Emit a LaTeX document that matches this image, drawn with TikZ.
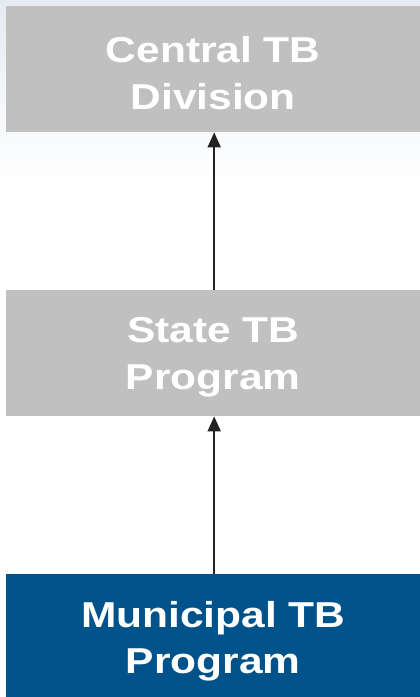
\documentclass[tikz,border=0pt]{standalone}
\usepackage{fontspec}
\newfontfamily\boxfont{Liberation Sans}[FakeStretch=1.18]
\usetikzlibrary{arrows.meta}
\definecolor{bgblue}{HTML}{E6EBF1}
\definecolor{boxgray}{HTML}{C0C0C0}
\definecolor{boxblue}{HTML}{00538A}
\definecolor{arrowdark}{HTML}{222222}
\tikzset{
  boxtext/.style={inner sep=0pt, align=center, text=white, yshift=-4pt,
    font=\boxfont\bfseries\fontsize{36}{46.5}\selectfont},
  box/.style={rectangle, anchor=north west, minimum width=414pt, minimum height=126pt,
    inner sep=0pt},
  graybox/.style={box, fill=boxgray},
  bluebox/.style={box, fill=boxblue},
  uparrow/.style={draw=arrowdark, line width=2pt, -{Triangle[width=13pt,length=15pt]}}
}
\begin{document}
\begin{tikzpicture}[x=1pt,y=-1pt]
\useasboundingbox (0,0) rectangle (420,697);
\fill[white] (0,0) rectangle (420,697);
\shade[top color=bgblue, bottom color=white] (0,0) rectangle (420,185);
\node[graybox, label={[boxtext]center:{Central TB\\Division}}] (central) at (6,6) {};
\node[graybox, label={[boxtext]center:{State TB\\Program}}] (state) at (6,290) {};
\node[bluebox, label={[boxtext]center:{Municipal TB\\Program}}] (municipal) at (6,574) {};
\draw[uparrow] ([xshift=1pt]state.north) -- ([xshift=1pt]central.south);
\draw[uparrow] ([xshift=1pt]municipal.north) -- ([xshift=1pt]state.south);
\end{tikzpicture}
\end{document}
